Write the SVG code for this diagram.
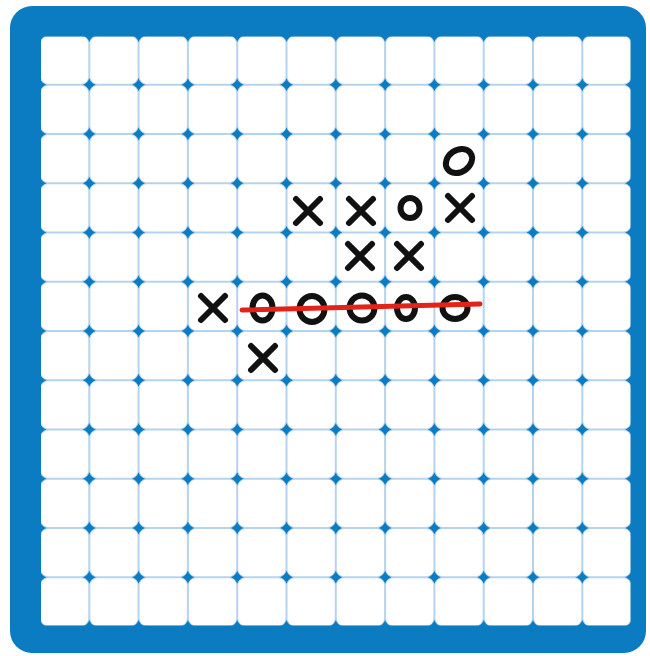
<svg xmlns="http://www.w3.org/2000/svg" xmlns:xlink="http://www.w3.org/1999/xlink" width="650" height="656" viewBox="0 0 650 656">
<style>
.frame{fill:#0b7cc2}
.bg{fill:#b6d3ee}
.cell{fill:#ffffff}
.dot{fill:#0b7cc2}
.mark{fill:none;stroke:#111111;stroke-width:6;stroke-linecap:round;stroke-linejoin:round}
.win{fill:none;stroke:#e2231a;stroke-width:5;stroke-linecap:round}
</style>
<defs>
<g id="row">
<rect class="cell" x="41" y="0" width="47.3" height="47.25" rx="7"/>
<rect class="cell" x="90.3" y="0" width="47.3" height="47.25" rx="7"/>
<rect class="cell" x="139.6" y="0" width="47.3" height="47.25" rx="7"/>
<rect class="cell" x="188.9" y="0" width="47.3" height="47.25" rx="7"/>
<rect class="cell" x="238.2" y="0" width="47.3" height="47.25" rx="7"/>
<rect class="cell" x="287.5" y="0" width="47.3" height="47.25" rx="7"/>
<rect class="cell" x="336.8" y="0" width="47.3" height="47.25" rx="7"/>
<rect class="cell" x="386.1" y="0" width="47.3" height="47.25" rx="7"/>
<rect class="cell" x="435.4" y="0" width="47.3" height="47.25" rx="7"/>
<rect class="cell" x="484.7" y="0" width="47.3" height="47.25" rx="7"/>
<rect class="cell" x="534" y="0" width="47.3" height="47.25" rx="7"/>
<rect class="cell" x="583.3" y="0" width="47.3" height="47.25" rx="7"/>
</g>
<path id="d" class="dot" d="M-6.5,0 A10,10 0 0 0 0,-6.5 A10,10 0 0 0 6.5,0 A10,10 0 0 0 0,6.5 A10,10 0 0 0 -6.5,0Z"/>
<g id="dots">
<use href="#d" x="40" y="0"/><use href="#d" x="89.3" y="0"/><use href="#d" x="138.6" y="0"/>
<use href="#d" x="187.9" y="0"/><use href="#d" x="237.2" y="0"/><use href="#d" x="286.5" y="0"/>
<use href="#d" x="335.8" y="0"/><use href="#d" x="385.1" y="0"/><use href="#d" x="434.4" y="0"/>
<use href="#d" x="483.7" y="0"/><use href="#d" x="533" y="0"/><use href="#d" x="582.3" y="0"/>
<use href="#d" x="631.6" y="0"/>
</g>
<path id="x" class="mark" d="M-12,-12 L12,12 M12,-12 L-12,12"/>
</defs>

<g id="board">
<rect class="frame" x="10" y="6" width="636" height="647" rx="22"/>
<rect class="bg" x="40" y="35.5" width="591.6" height="591"/>
<use href="#row" y="36.5"/>
<use href="#row" y="85.75"/>
<use href="#row" y="135"/>
<use href="#row" y="184.25"/>
<use href="#row" y="233.5"/>
<use href="#row" y="282.75"/>
<use href="#row" y="332"/>
<use href="#row" y="381.25"/>
<use href="#row" y="430.5"/>
<use href="#row" y="479.75"/>
<use href="#row" y="529"/>
<use href="#row" y="578.25"/>
<rect x="40" y="35.5" width="591.6" height="591" fill="none" stroke="#0b7cc2" stroke-width="2"/>
<use href="#dots" y="35.5"/>
<use href="#dots" y="84.75"/>
<use href="#dots" y="134"/>
<use href="#dots" y="183.25"/>
<use href="#dots" y="232.5"/>
<use href="#dots" y="281.75"/>
<use href="#dots" y="331"/>
<use href="#dots" y="380.25"/>
<use href="#dots" y="429.5"/>
<use href="#dots" y="478.75"/>
<use href="#dots" y="528"/>
<use href="#dots" y="577.25"/>
<use href="#dots" y="626.5"/>
</g>

<g id="marks">
<use href="#x" x="308" y="211"/>
<use href="#x" x="361" y="211"/>
<use href="#x" x="460" y="208"/>
<use href="#x" x="360" y="256"/>
<use href="#x" x="409" y="256"/>
<use href="#x" x="213" y="308"/>
<use href="#x" x="263" y="358"/>
<ellipse class="mark" cx="459" cy="161" rx="14" ry="11" transform="rotate(-35 459 161)"/>
<ellipse class="mark" cx="410" cy="208" rx="9.5" ry="10"/>
<ellipse class="mark" cx="262.5" cy="308" rx="10" ry="12.5"/>
<ellipse class="mark" cx="312" cy="309" rx="12.5" ry="13"/>
<ellipse class="mark" cx="362" cy="308" rx="12.5" ry="12.5"/>
<ellipse class="mark" cx="406" cy="308" rx="9" ry="11"/>
<ellipse class="mark" cx="455" cy="308" rx="12.5" ry="11"/>
</g>

<g id="connectors">
<line class="win" x1="242" y1="310" x2="480" y2="304"/>
</g>
</svg>
